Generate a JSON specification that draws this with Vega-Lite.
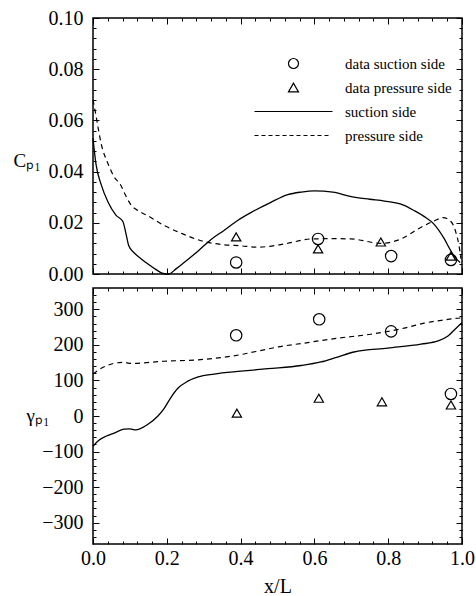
{
  "$schema": "https://vega.github.io/schema/vega-lite/v6.json",
  "padding": {"left": 12, "top": 7, "right": 0, "bottom": 0},
  "background": "white",
  "bounds": "flush",
  "spacing": 14,
  "datasets": {
    "lines": [
      {"panel": "cp", "series": "suction side", "x": 0, "y": 0.053},
      {"panel": "cp", "series": "suction side", "x": 0.008, "y": 0.043},
      {"panel": "cp", "series": "suction side", "x": 0.022, "y": 0.035},
      {"panel": "cp", "series": "suction side", "x": 0.041, "y": 0.028},
      {"panel": "cp", "series": "suction side", "x": 0.062, "y": 0.023},
      {"panel": "cp", "series": "suction side", "x": 0.081, "y": 0.0205},
      {"panel": "cp", "series": "suction side", "x": 0.089, "y": 0.016},
      {"panel": "cp", "series": "suction side", "x": 0.097, "y": 0.011},
      {"panel": "cp", "series": "suction side", "x": 0.11, "y": 0.0085},
      {"panel": "cp", "series": "suction side", "x": 0.13, "y": 0.006},
      {"panel": "cp", "series": "suction side", "x": 0.15, "y": 0.0038},
      {"panel": "cp", "series": "suction side", "x": 0.17, "y": 0.0018},
      {"panel": "cp", "series": "suction side", "x": 0.19, "y": 0.0002},
      {"panel": "cp", "series": "suction side", "x": 0.205, "y": 0.0},
      {"panel": "cp", "series": "suction side", "x": 0.225, "y": 0.002},
      {"panel": "cp", "series": "suction side", "x": 0.247, "y": 0.0045},
      {"panel": "cp", "series": "suction side", "x": 0.285, "y": 0.009},
      {"panel": "cp", "series": "suction side", "x": 0.32, "y": 0.0135},
      {"panel": "cp", "series": "suction side", "x": 0.355, "y": 0.017},
      {"panel": "cp", "series": "suction side", "x": 0.393, "y": 0.021},
      {"panel": "cp", "series": "suction side", "x": 0.428, "y": 0.024},
      {"panel": "cp", "series": "suction side", "x": 0.482, "y": 0.028},
      {"panel": "cp", "series": "suction side", "x": 0.528, "y": 0.031},
      {"panel": "cp", "series": "suction side", "x": 0.564, "y": 0.032},
      {"panel": "cp", "series": "suction side", "x": 0.6, "y": 0.0325},
      {"panel": "cp", "series": "suction side", "x": 0.65, "y": 0.032},
      {"panel": "cp", "series": "suction side", "x": 0.7, "y": 0.0302},
      {"panel": "cp", "series": "suction side", "x": 0.75, "y": 0.0292},
      {"panel": "cp", "series": "suction side", "x": 0.79, "y": 0.0285},
      {"panel": "cp", "series": "suction side", "x": 0.84, "y": 0.027},
      {"panel": "cp", "series": "suction side", "x": 0.87, "y": 0.0248},
      {"panel": "cp", "series": "suction side", "x": 0.897, "y": 0.0225},
      {"panel": "cp", "series": "suction side", "x": 0.924, "y": 0.0195},
      {"panel": "cp", "series": "suction side", "x": 0.951, "y": 0.014},
      {"panel": "cp", "series": "suction side", "x": 0.97, "y": 0.009},
      {"panel": "cp", "series": "suction side", "x": 0.984, "y": 0.006},
      {"panel": "cp", "series": "suction side", "x": 0.995, "y": 0.0045},
      {"panel": "cp", "series": "pressure side", "x": 0, "y": 0.068},
      {"panel": "cp", "series": "pressure side", "x": 0.008, "y": 0.062},
      {"panel": "cp", "series": "pressure side", "x": 0.014, "y": 0.057},
      {"panel": "cp", "series": "pressure side", "x": 0.022, "y": 0.051},
      {"panel": "cp", "series": "pressure side", "x": 0.041, "y": 0.043},
      {"panel": "cp", "series": "pressure side", "x": 0.057, "y": 0.038},
      {"panel": "cp", "series": "pressure side", "x": 0.076, "y": 0.0345},
      {"panel": "cp", "series": "pressure side", "x": 0.084, "y": 0.032},
      {"panel": "cp", "series": "pressure side", "x": 0.103, "y": 0.027},
      {"panel": "cp", "series": "pressure side", "x": 0.125, "y": 0.0245},
      {"panel": "cp", "series": "pressure side", "x": 0.149, "y": 0.0227},
      {"panel": "cp", "series": "pressure side", "x": 0.192, "y": 0.019},
      {"panel": "cp", "series": "pressure side", "x": 0.238, "y": 0.016},
      {"panel": "cp", "series": "pressure side", "x": 0.293, "y": 0.013},
      {"panel": "cp", "series": "pressure side", "x": 0.35, "y": 0.0115},
      {"panel": "cp", "series": "pressure side", "x": 0.4, "y": 0.011},
      {"panel": "cp", "series": "pressure side", "x": 0.447, "y": 0.0105},
      {"panel": "cp", "series": "pressure side", "x": 0.518, "y": 0.0117},
      {"panel": "cp", "series": "pressure side", "x": 0.591, "y": 0.0137},
      {"panel": "cp", "series": "pressure side", "x": 0.65, "y": 0.0138},
      {"panel": "cp", "series": "pressure side", "x": 0.699, "y": 0.0137},
      {"panel": "cp", "series": "pressure side", "x": 0.78, "y": 0.012},
      {"panel": "cp", "series": "pressure side", "x": 0.835, "y": 0.0137},
      {"panel": "cp", "series": "pressure side", "x": 0.881, "y": 0.0176},
      {"panel": "cp", "series": "pressure side", "x": 0.924, "y": 0.0207},
      {"panel": "cp", "series": "pressure side", "x": 0.949, "y": 0.022},
      {"panel": "cp", "series": "pressure side", "x": 0.97, "y": 0.0205},
      {"panel": "cp", "series": "pressure side", "x": 0.984, "y": 0.016},
      {"panel": "cp", "series": "pressure side", "x": 0.992, "y": 0.011},
      {"panel": "cp", "series": "pressure side", "x": 0.997, "y": 0.006},
      {"panel": "gamma", "series": "suction side", "x": 0, "y": -85},
      {"panel": "gamma", "series": "suction side", "x": 0.016, "y": -68},
      {"panel": "gamma", "series": "suction side", "x": 0.035, "y": -57},
      {"panel": "gamma", "series": "suction side", "x": 0.057, "y": -48},
      {"panel": "gamma", "series": "suction side", "x": 0.084, "y": -37},
      {"panel": "gamma", "series": "suction side", "x": 0.1, "y": -36},
      {"panel": "gamma", "series": "suction side", "x": 0.115, "y": -39},
      {"panel": "gamma", "series": "suction side", "x": 0.149, "y": -23},
      {"panel": "gamma", "series": "suction side", "x": 0.176, "y": 0},
      {"panel": "gamma", "series": "suction side", "x": 0.192, "y": 20},
      {"panel": "gamma", "series": "suction side", "x": 0.211, "y": 52},
      {"panel": "gamma", "series": "suction side", "x": 0.23, "y": 78},
      {"panel": "gamma", "series": "suction side", "x": 0.257, "y": 98},
      {"panel": "gamma", "series": "suction side", "x": 0.285, "y": 110},
      {"panel": "gamma", "series": "suction side", "x": 0.328, "y": 118},
      {"panel": "gamma", "series": "suction side", "x": 0.401, "y": 126},
      {"panel": "gamma", "series": "suction side", "x": 0.474, "y": 133},
      {"panel": "gamma", "series": "suction side", "x": 0.564, "y": 142},
      {"panel": "gamma", "series": "suction side", "x": 0.618, "y": 152},
      {"panel": "gamma", "series": "suction side", "x": 0.66, "y": 165},
      {"panel": "gamma", "series": "suction side", "x": 0.707, "y": 180},
      {"panel": "gamma", "series": "suction side", "x": 0.799, "y": 191},
      {"panel": "gamma", "series": "suction side", "x": 0.889, "y": 202},
      {"panel": "gamma", "series": "suction side", "x": 0.935, "y": 211},
      {"panel": "gamma", "series": "suction side", "x": 0.962, "y": 225},
      {"panel": "gamma", "series": "suction side", "x": 0.984, "y": 247},
      {"panel": "gamma", "series": "suction side", "x": 1.0, "y": 262},
      {"panel": "gamma", "series": "pressure side", "x": 0, "y": 118},
      {"panel": "gamma", "series": "pressure side", "x": 0.01, "y": 126},
      {"panel": "gamma", "series": "pressure side", "x": 0.041, "y": 143},
      {"panel": "gamma", "series": "pressure side", "x": 0.081, "y": 151},
      {"panel": "gamma", "series": "pressure side", "x": 0.103, "y": 148},
      {"panel": "gamma", "series": "pressure side", "x": 0.192, "y": 154},
      {"panel": "gamma", "series": "pressure side", "x": 0.285, "y": 158},
      {"panel": "gamma", "series": "pressure side", "x": 0.374, "y": 168},
      {"panel": "gamma", "series": "pressure side", "x": 0.463, "y": 186},
      {"panel": "gamma", "series": "pressure side", "x": 0.5, "y": 194},
      {"panel": "gamma", "series": "pressure side", "x": 0.572, "y": 205},
      {"panel": "gamma", "series": "pressure side", "x": 0.664, "y": 219},
      {"panel": "gamma", "series": "pressure side", "x": 0.753, "y": 230},
      {"panel": "gamma", "series": "pressure side", "x": 0.843, "y": 247},
      {"panel": "gamma", "series": "pressure side", "x": 0.897, "y": 261},
      {"panel": "gamma", "series": "pressure side", "x": 0.95, "y": 270},
      {"panel": "gamma", "series": "pressure side", "x": 0.978, "y": 274},
      {"panel": "gamma", "series": "pressure side", "x": 1.0, "y": 276}
    ],
    "pts": [
      {"panel": "cp", "series": "data suction side", "x": 0.388, "y": 0.0045},
      {"panel": "cp", "series": "data suction side", "x": 0.61, "y": 0.0137},
      {"panel": "cp", "series": "data suction side", "x": 0.808, "y": 0.007},
      {"panel": "cp", "series": "data suction side", "x": 0.97, "y": 0.0055},
      {"panel": "cp", "series": "data pressure side", "x": 0.388, "y": 0.0145},
      {"panel": "cp", "series": "data pressure side", "x": 0.61, "y": 0.0098},
      {"panel": "cp", "series": "data pressure side", "x": 0.78, "y": 0.0125},
      {"panel": "cp", "series": "data pressure side", "x": 0.97, "y": 0.007},
      {"panel": "gamma", "series": "data suction side", "x": 0.388, "y": 227},
      {"panel": "gamma", "series": "data suction side", "x": 0.613, "y": 272},
      {"panel": "gamma", "series": "data suction side", "x": 0.808, "y": 238},
      {"panel": "gamma", "series": "data suction side", "x": 0.97, "y": 62},
      {"panel": "gamma", "series": "data pressure side", "x": 0.39, "y": 8},
      {"panel": "gamma", "series": "data pressure side", "x": 0.612, "y": 50},
      {"panel": "gamma", "series": "data pressure side", "x": 0.783, "y": 40},
      {"panel": "gamma", "series": "data pressure side", "x": 0.97, "y": 31}
    ]
  },
  "vconcat": [
    {
      "width": 369,
      "height": 256,
      "resolve": {"axis": {"x": "independent", "y": "independent"}},
      "layer": [
        {
          "data": {"name": "lines"},
          "transform": [{"filter": "datum.panel === 'cp' && datum.series === 'suction side'"}],
          "mark": {"type": "line", "color": "black", "strokeWidth": 1.3, "interpolate": "monotone"},
          "encoding": {
            "x": {"field": "x", "type": "quantitative", "scale": {"domain": [0, 1], "nice": false, "zero": false},
              "axis": {"orient": "bottom", "values": [0, 0.2, 0.4, 0.6, 0.8, 1.0], "tickSize": -6, "labels": false, "title": null}},
            "y": {"field": "y", "type": "quantitative", "scale": {"domain": [0, 0.1], "nice": false, "zero": false},
              "axis": {"orient": "left", "values": [0, 0.02, 0.04, 0.06, 0.08, 0.1], "format": ".2f", "tickSize": -6, "labelPadding": 16,
                "labelFont": "Liberation Serif", "titleFont": "Liberation Serif",
                "title": "Cₚ₁", "titleAngle": 0, "titleX": -80, "titleY": 148, "titleAlign": "left", "titleBaseline": "alphabetic", "titleFontSize": 19}}
          }
        },
        {
          "data": {"name": "lines"},
          "transform": [{"filter": "datum.panel === 'cp' && datum.series === 'pressure side'"}],
          "mark": {"type": "line", "color": "black", "strokeWidth": 1.2, "strokeDash": [5, 4], "interpolate": "monotone"},
          "encoding": {
            "x": {"field": "x", "type": "quantitative", "scale": {"domain": [0, 1], "nice": false, "zero": false},
              "axis": {"orient": "top", "values": [0, 0.2, 0.4, 0.6, 0.8, 1.0], "tickSize": -6, "labels": false, "title": null}},
            "y": {"field": "y", "type": "quantitative", "scale": {"domain": [0, 0.1], "nice": false, "zero": false},
              "axis": {"orient": "right", "values": [0, 0.02, 0.04, 0.06, 0.08, 0.1], "tickSize": -6, "labels": false, "title": null}}
          }
        },
        {
          "data": {"name": "pts"},
          "transform": [{"filter": "datum.panel === 'cp' && datum.series === 'data suction side'"}],
          "mark": {"type": "point", "filled": false, "color": "black", "size": 130, "strokeWidth": 1.2, "opacity": 1},
          "encoding": {
            "x": {"field": "x", "type": "quantitative", "scale": {"domain": [0, 1], "nice": false, "zero": false},
              "axis": {"orient": "bottom", "values": [0.04, 0.08, 0.12, 0.16, 0.24, 0.28, 0.32, 0.36, 0.44, 0.48, 0.52, 0.56, 0.64, 0.68, 0.72, 0.76, 0.84, 0.88, 0.92, 0.96], "tickSize": -3, "labels": false, "title": null}},
            "y": {"field": "y", "type": "quantitative", "scale": {"domain": [0, 0.1], "nice": false, "zero": false},
              "axis": {"orient": "left", "values": [0.004, 0.008, 0.012, 0.016, 0.024, 0.028, 0.032, 0.036, 0.044, 0.048, 0.052, 0.056, 0.064, 0.068, 0.072, 0.076, 0.084, 0.088, 0.092, 0.096], "tickSize": -3, "labels": false, "title": null}},
            "shape": {"field": "series", "type": "nominal",
              "scale": {"domain": ["data suction side", "data pressure side", "suction side", "pressure side"], "range": ["circle", "triangle-up", "M-7.8,0H7.8", "M-7.8,0H-7M-6.4,0H-5.6M-5,0H-4.2M-3.6,0H-2.8M-2.2,0H-1.4M-0.8,0H0M0.6,0H1.4M2,0H2.8M3.4,0H4.2M4.8,0H5.6M6.2,0H7"]},
              "legend": {"orient": "none", "legendX": 193, "legendY": 38, "title": null, "labelFont": "Liberation Serif", "labelFontSize": 15, "labelColor": "black",
                "symbolSize": 100, "symbolStrokeColor": "black", "symbolStrokeWidth": 1.2, "symbolFillColor": "transparent", "rowPadding": 8, "labelOffset": 44}}
          }
        },
        {
          "data": {"name": "pts"},
          "transform": [{"filter": "datum.panel === 'cp' && datum.series === 'data pressure side'"}],
          "mark": {"type": "point", "filled": false, "color": "black", "size": 86, "strokeWidth": 1.2, "opacity": 1},
          "encoding": {
            "x": {"field": "x", "type": "quantitative", "scale": {"domain": [0, 1], "nice": false, "zero": false},
              "axis": {"orient": "top", "values": [0.04, 0.08, 0.12, 0.16, 0.24, 0.28, 0.32, 0.36, 0.44, 0.48, 0.52, 0.56, 0.64, 0.68, 0.72, 0.76, 0.84, 0.88, 0.92, 0.96], "tickSize": -3, "labels": false, "title": null}},
            "y": {"field": "y", "type": "quantitative", "scale": {"domain": [0, 0.1], "nice": false, "zero": false},
              "axis": {"orient": "right", "values": [0.004, 0.008, 0.012, 0.016, 0.024, 0.028, 0.032, 0.036, 0.044, 0.048, 0.052, 0.056, 0.064, 0.068, 0.072, 0.076, 0.084, 0.088, 0.092, 0.096], "tickSize": -3, "labels": false, "title": null}},
            "shape": {"field": "series", "type": "nominal",
              "scale": {"domain": ["data suction side", "data pressure side", "suction side", "pressure side"], "range": ["circle", "triangle-up", "M-7.8,0H7.8", "M-7.8,0H-7M-6.4,0H-5.6M-5,0H-4.2M-3.6,0H-2.8M-2.2,0H-1.4M-0.8,0H0M0.6,0H1.4M2,0H2.8M3.4,0H4.2M4.8,0H5.6M6.2,0H7"]},
              "legend": {"orient": "none", "legendX": 193, "legendY": 38, "title": null, "labelFont": "Liberation Serif", "labelFontSize": 15, "labelColor": "black",
                "symbolSize": 100, "symbolStrokeColor": "black", "symbolStrokeWidth": 1.2, "symbolFillColor": "transparent", "rowPadding": 8, "labelOffset": 44}}
          }
        }
      ]
    },
    {
      "width": 369,
      "height": 256,
      "resolve": {"axis": {"x": "independent", "y": "independent"}},
      "layer": [
        {
          "data": {"name": "lines"},
          "transform": [{"filter": "datum.panel === 'gamma' && datum.series === 'suction side'"}],
          "mark": {"type": "line", "color": "black", "strokeWidth": 1.3, "interpolate": "monotone"},
          "encoding": {
            "x": {"field": "x", "type": "quantitative", "scale": {"domain": [0, 1], "nice": false, "zero": false},
              "axis": {"orient": "bottom", "values": [0, 0.2, 0.4, 0.6, 0.8, 1.0], "format": ".1f", "tickSize": -6, "labelPadding": 10,
                "labelFont": "Liberation Serif", "titleFont": "Liberation Serif",
                "title": "x/L", "titleFontSize": 20, "titlePadding": 8}},
            "y": {"field": "y", "type": "quantitative", "scale": {"domain": [-360, 360], "nice": false, "zero": false},
              "axis": {"orient": "left", "values": [-300, -200, -100, 0, 100, 200, 300], "format": "d", "tickSize": -6, "labelPadding": 16,
                "labelFont": "Liberation Serif", "titleFont": "Liberation Serif",
                "title": "γₚ₁", "titleAngle": 0, "titleX": -67, "titleY": 133, "titleAlign": "left", "titleBaseline": "alphabetic", "titleFontSize": 19}}
          }
        },
        {
          "data": {"name": "lines"},
          "transform": [{"filter": "datum.panel === 'gamma' && datum.series === 'pressure side'"}],
          "mark": {"type": "line", "color": "black", "strokeWidth": 1.2, "strokeDash": [5, 4], "interpolate": "monotone"},
          "encoding": {
            "x": {"field": "x", "type": "quantitative", "scale": {"domain": [0, 1], "nice": false, "zero": false},
              "axis": {"orient": "top", "values": [0, 0.2, 0.4, 0.6, 0.8, 1.0], "tickSize": -6, "labels": false, "title": null}},
            "y": {"field": "y", "type": "quantitative", "scale": {"domain": [-360, 360], "nice": false, "zero": false},
              "axis": {"orient": "right", "values": [-300, -200, -100, 0, 100, 200, 300], "tickSize": -6, "labels": false, "title": null}}
          }
        },
        {
          "data": {"name": "pts"},
          "transform": [{"filter": "datum.panel === 'gamma' && datum.series === 'data suction side'"}],
          "mark": {"type": "point", "shape": "circle", "filled": false, "color": "black", "size": 130, "strokeWidth": 1.2, "opacity": 1},
          "encoding": {
            "x": {"field": "x", "type": "quantitative", "scale": {"domain": [0, 1], "nice": false, "zero": false},
              "axis": {"orient": "bottom", "values": [0.04, 0.08, 0.12, 0.16, 0.24, 0.28, 0.32, 0.36, 0.44, 0.48, 0.52, 0.56, 0.64, 0.68, 0.72, 0.76, 0.84, 0.88, 0.92, 0.96], "tickSize": -3, "labels": false, "title": null}},
            "y": {"field": "y", "type": "quantitative", "scale": {"domain": [-360, 360], "nice": false, "zero": false},
              "axis": {"orient": "left", "values": [-340, -320, -280, -260, -240, -220, -180, -160, -140, -120, -80, -60, -40, -20, 20, 40, 60, 80, 120, 140, 160, 180, 220, 240, 260, 280, 320, 340], "tickSize": -3, "labels": false, "title": null}}
          }
        },
        {
          "data": {"name": "pts"},
          "transform": [{"filter": "datum.panel === 'gamma' && datum.series === 'data pressure side'"}],
          "mark": {"type": "point", "shape": "triangle-up", "filled": false, "color": "black", "size": 86, "strokeWidth": 1.2, "opacity": 1},
          "encoding": {
            "x": {"field": "x", "type": "quantitative", "scale": {"domain": [0, 1], "nice": false, "zero": false},
              "axis": {"orient": "top", "values": [0.04, 0.08, 0.12, 0.16, 0.24, 0.28, 0.32, 0.36, 0.44, 0.48, 0.52, 0.56, 0.64, 0.68, 0.72, 0.76, 0.84, 0.88, 0.92, 0.96], "tickSize": -3, "labels": false, "title": null}},
            "y": {"field": "y", "type": "quantitative", "scale": {"domain": [-360, 360], "nice": false, "zero": false},
              "axis": {"orient": "right", "values": [-340, -320, -280, -260, -240, -220, -180, -160, -140, -120, -80, -60, -40, -20, 20, 40, 60, 80, 120, 140, 160, 180, 220, 240, 260, 280, 320, 340], "tickSize": -3, "labels": false, "title": null}}
          }
        }
      ]
    }
  ],
  "config": {
    "font": "Liberation Serif",
    "view": {"stroke": "black", "strokeWidth": 1.5},
    "axis": {
      "labelFont": "Liberation Serif", "labelFontSize": 20, "labelColor": "black",
      "titleFont": "Liberation Serif", "titleColor": "black", "titleFontWeight": "normal",
      "tickColor": "black", "tickWidth": 1, "domain": false, "grid": false,
      "labelFlush": false, "labelOverlap": false
    }
  }
}
